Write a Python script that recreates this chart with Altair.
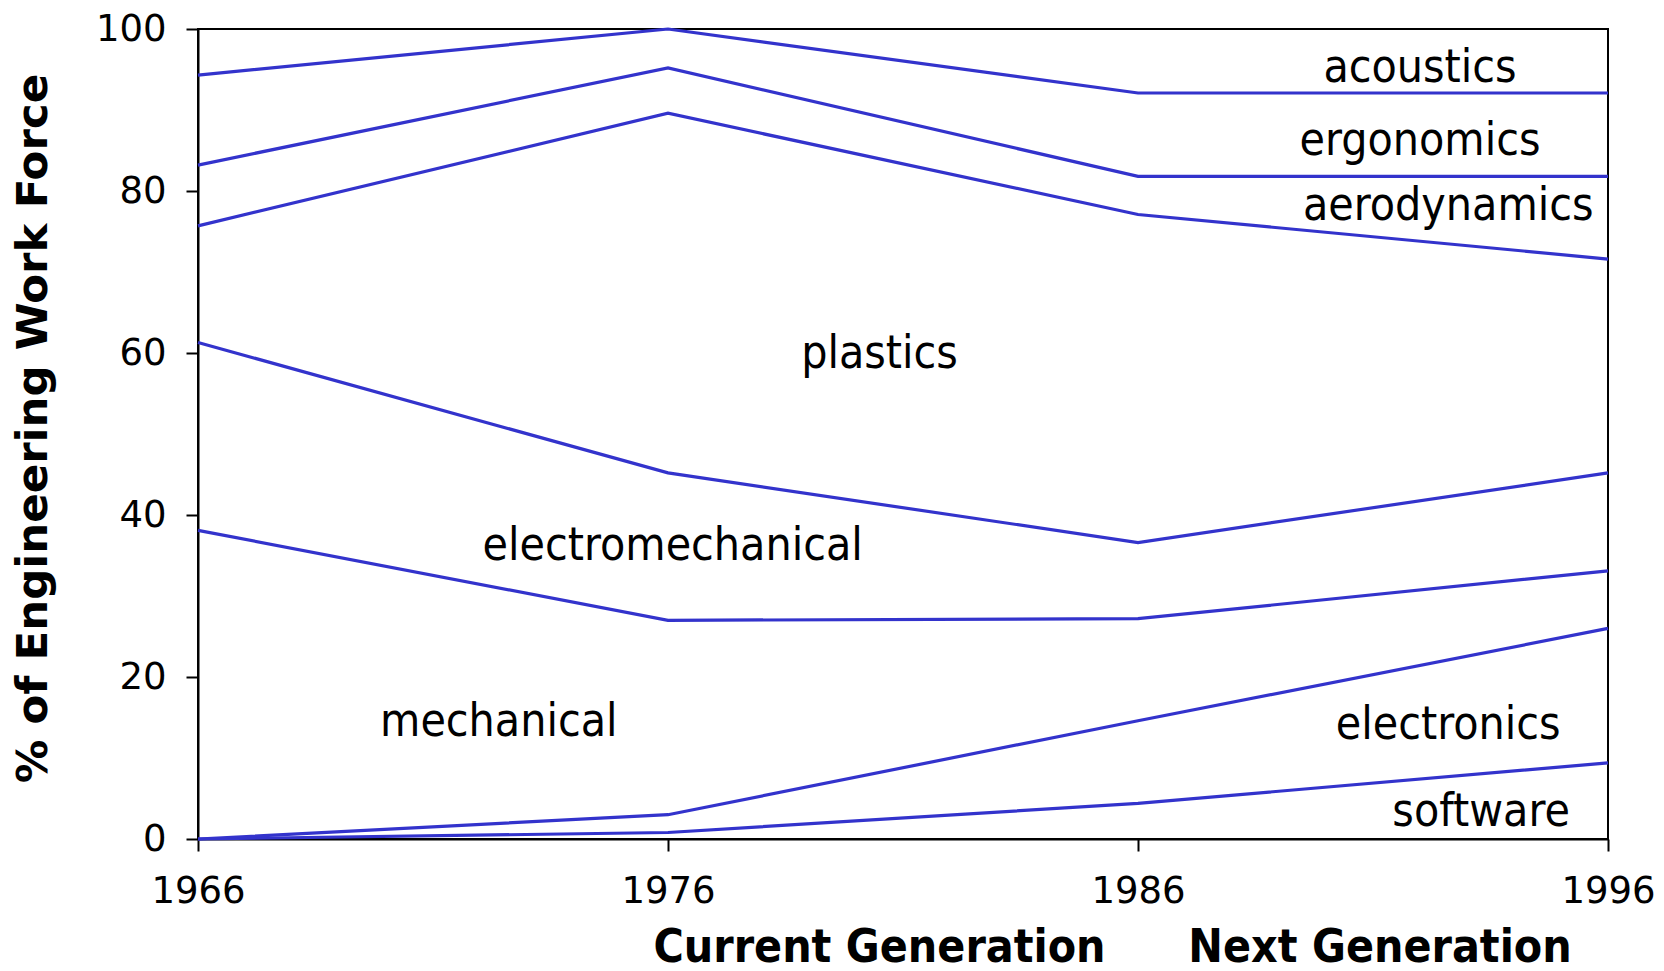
import altair as alt
import pandas as pd

# Years on the x axis
years = [1966, 1976, 1986, 1996]

# Cumulative boundary lines (% of engineering work force), bottom to top
software_top = [0.0, 0.8, 4.4, 9.4]
electronics_top = [0.0, 3.0, 14.6, 26.0]
mechanical_top = [38.1, 27.0, 27.2, 33.1]
electromechanical_top = [61.3, 45.2, 36.6, 45.2]
plastics_top = [75.7, 89.6, 77.1, 71.6]
aerodynamics_top = [83.2, 95.2, 81.8, 81.8]
ergonomics_top = [94.3, 100.0, 92.1, 92.1]

boundary_names = ["software", "electronics", "mechanical", "electromechanical",
                  "plastics", "aerodynamics", "ergonomics"]
boundary_values = [software_top, electronics_top, mechanical_top, electromechanical_top,
                   plastics_top, aerodynamics_top, ergonomics_top]

# Region labels (in data coordinates)
label_text = ["acoustics", "ergonomics", "aerodynamics", "plastics",
              "electromechanical", "mechanical", "electronics", "software"]
label_year = [1992.0, 1992.0, 1992.6, 1980.5, 1976.1, 1972.4, 1992.6, 1993.3]
label_pct = [95.2, 86.2, 78.1, 59.9, 36.2, 14.5, 14.1, 3.3]

# Generation captions below the axis
gen_text = ["Current Generation", "Next Generation"]
gen_year = [1980.5, 1991.15]
gen_pct = [-13.4, -13.4]

rows = []
for name, vals in zip(boundary_names, boundary_values):
    for yr, v in zip(years, vals):
        rows.append({"series": name, "year": yr, "pct": v})
lines_df = pd.DataFrame(rows)
labels_df = pd.DataFrame({"text": label_text, "year": label_year, "pct": label_pct})
gen_df = pd.DataFrame({"text": gen_text, "year": gen_year, "pct": gen_pct})

W, H = 1410, 810

xscale = alt.Scale(domain=[1966, 1996], nice=False, zero=False)
yscale = alt.Scale(domain=[0, 100], nice=False)

lines = alt.Chart(lines_df).mark_line(color="#3333CC", strokeWidth=3.2).encode(
    x=alt.X("year:Q", scale=xscale,
            axis=alt.Axis(values=years, format="d", title=None, labelFont="DejaVu Sans",
                          labelFontSize=37, labelColor="black", labelPadding=22,
                          tickSize=12, tickWidth=2, tickColor="black",
                          domainColor="black", domainWidth=2, grid=False,
                          labelFlush=False, labelOverlap=False)),
    y=alt.Y("pct:Q", scale=yscale,
            axis=alt.Axis(values=[0, 20, 40, 60, 80, 100],
                          title="% of Engineering Work Force",
                          titleFont="DejaVu Sans", titleFontSize=43.5, titleFontWeight="bold",
                          titleColor="black", titleX=-165, titleY=H / 2 - 6, titleAngle=270,
                          titleAlign="center", titleBaseline="middle",
                          labelFont="DejaVu Sans", labelFontSize=37, labelColor="black",
                          labelPadding=20, tickSize=12, tickWidth=2, tickColor="black",
                          domainColor="black", domainWidth=2, grid=False)),
    detail="series:N",
)

labels = alt.Chart(labels_df).mark_text(
    font="DejaVu Sans Condensed", fontSize=46, color="black", align="center", baseline="middle"
).encode(
    x=alt.X("year:Q", scale=xscale),
    y=alt.Y("pct:Q", scale=yscale),
    text="text:N",
)

gens = alt.Chart(gen_df).mark_text(
    font="DejaVu Sans Condensed", fontSize=46, fontWeight="bold", color="black",
    align="center", baseline="middle"
).encode(
    x=alt.X("year:Q", scale=xscale),
    y=alt.Y("pct:Q", scale=yscale),
    text="text:N",
)

chart = alt.layer(lines, labels, gens).properties(
    width=W, height=H,
    autosize=alt.AutoSizeParams(type="none"),
    padding={"left": 190, "top": 21, "right": 48, "bottom": 136},
).configure(background="white").configure_view(stroke="black", strokeWidth=2)

chart.save("out.html", embed_options={"renderer": "svg", "actions": False})
